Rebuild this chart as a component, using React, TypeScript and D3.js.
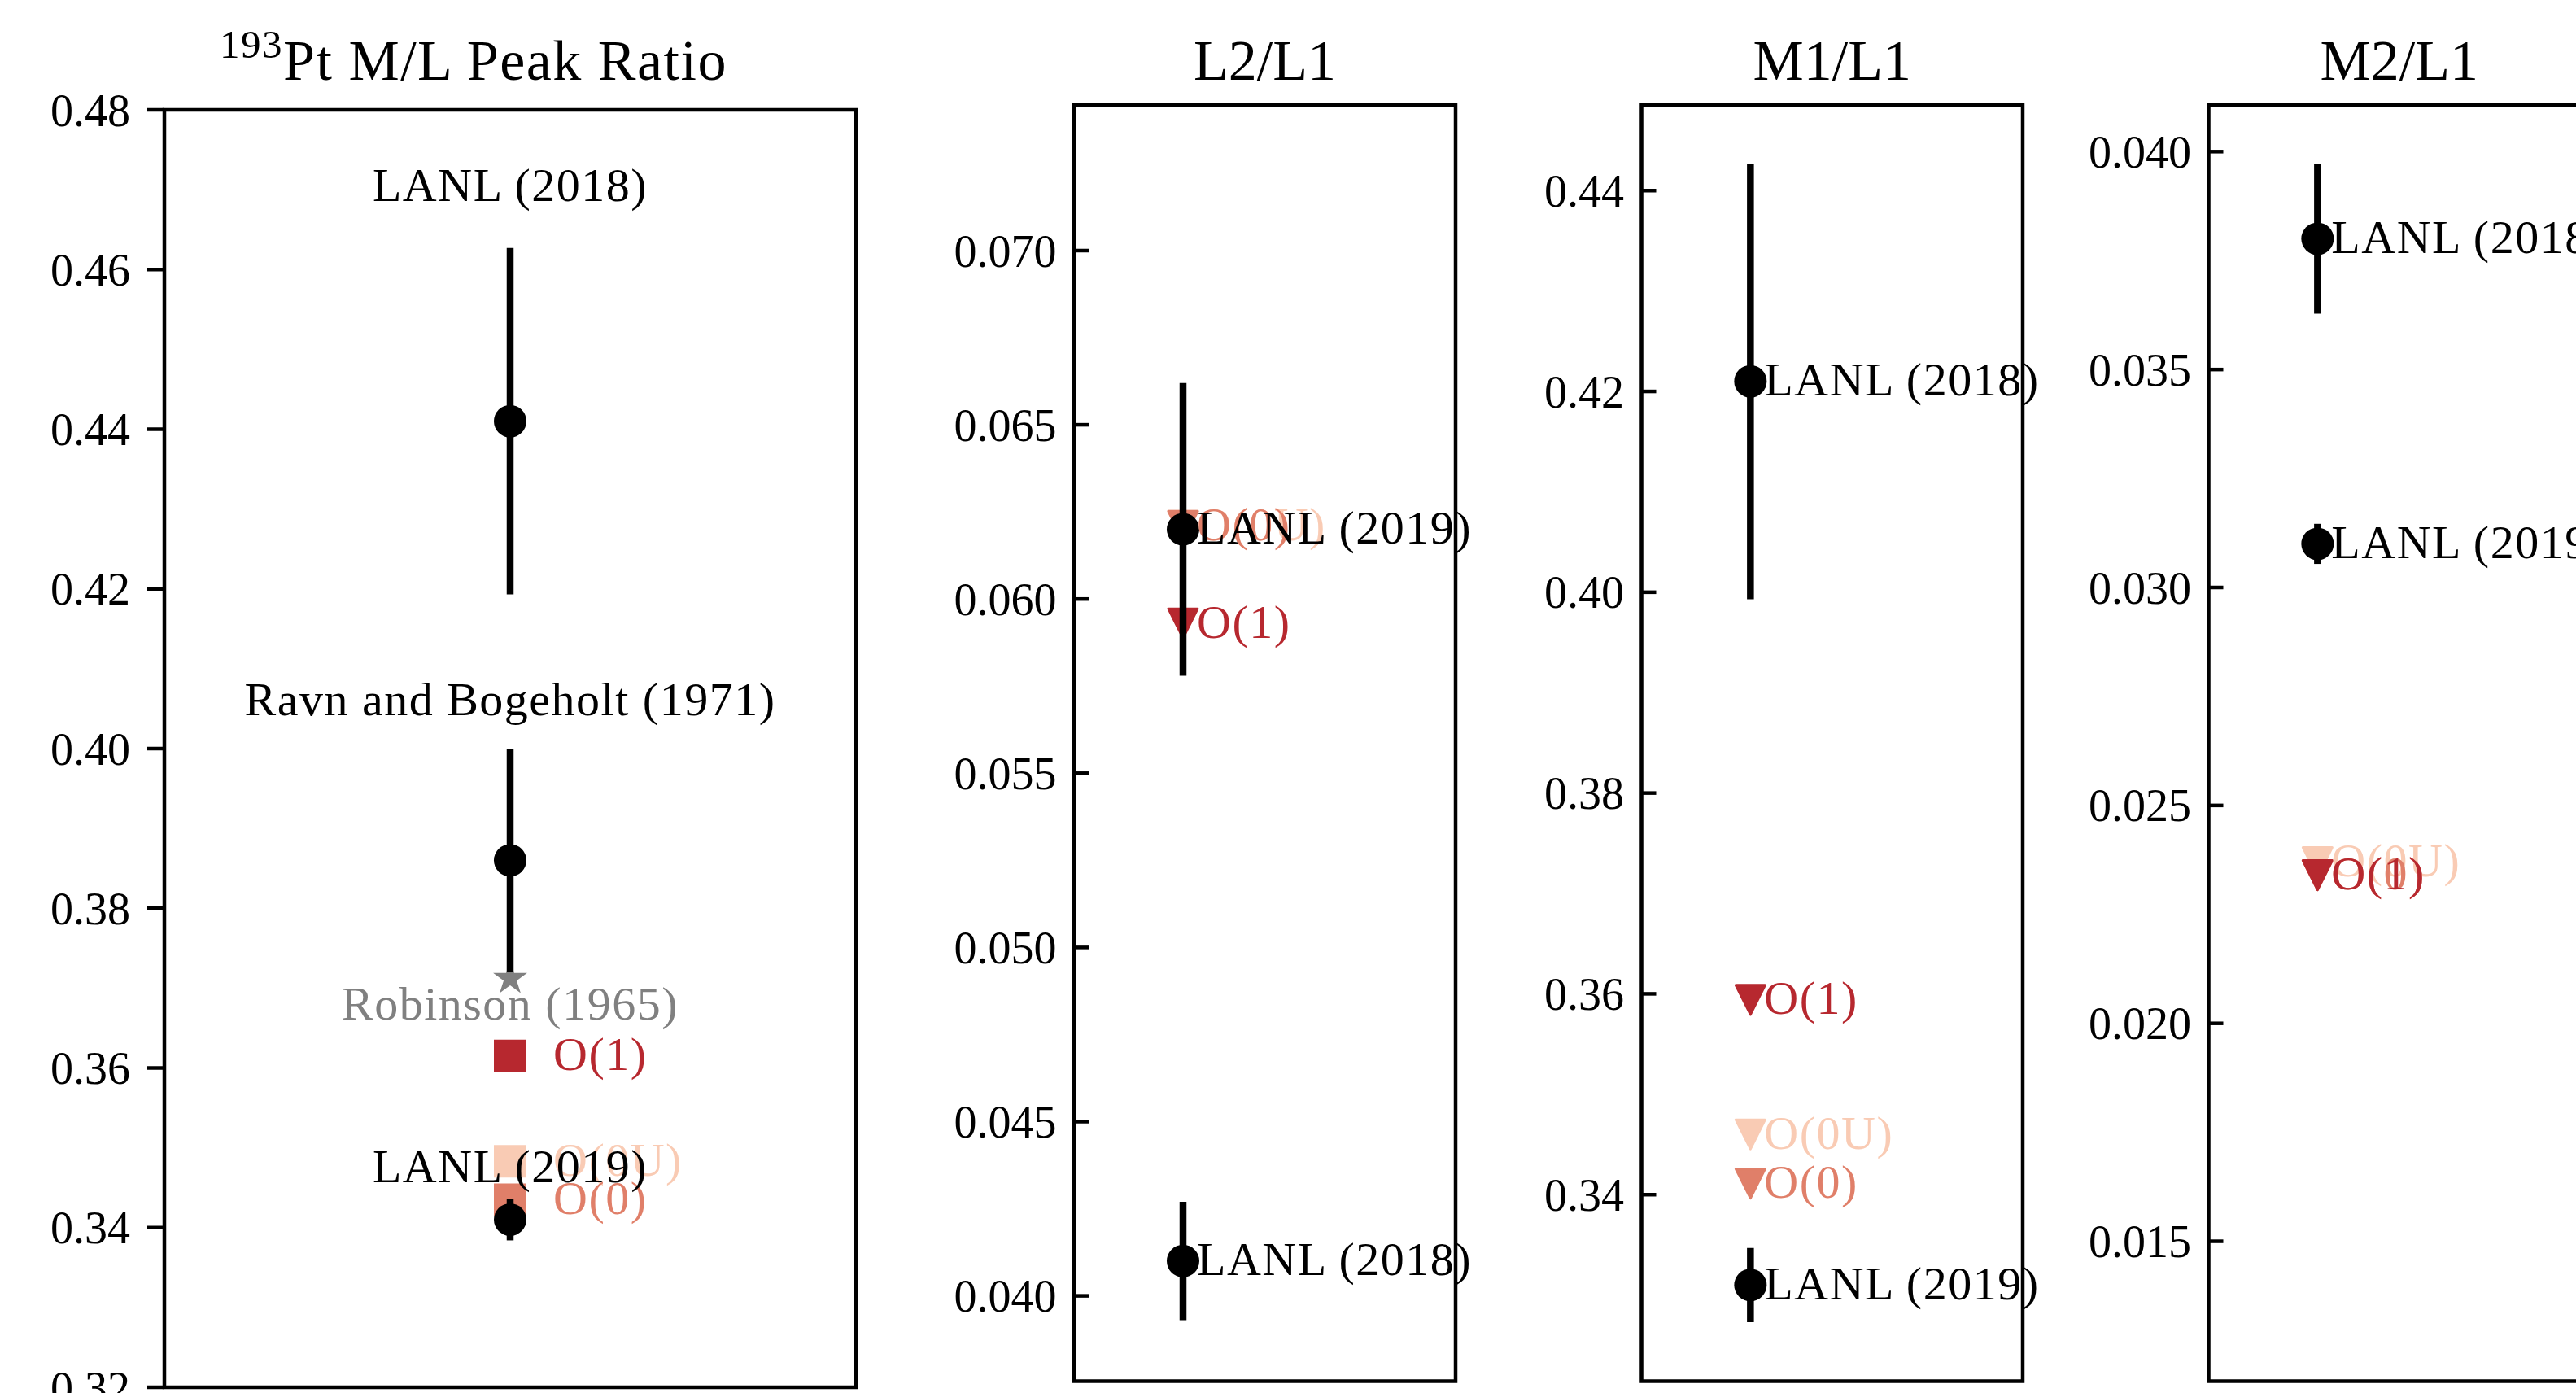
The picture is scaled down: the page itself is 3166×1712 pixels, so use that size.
import React from 'react';
import * as d3 from 'd3';

const W = 3166;
const H = 1712;
const FONT = '"Liberation Serif", "DejaVu Serif", serif';

// calculated orders (drawn in this order, last one on top)
const calcNames = ['O(0U)', 'O(0)', 'O(1)'];
const calcColors = ['#f9cbb4', '#e07f69', '#b7282f'];

// 193Pt M/L peak ratio
const mlRefNames = ['LANL (2018)', 'Ravn and Bogeholt (1971)', 'LANL (2019)'];
const mlRefValues = [0.441, 0.386, 0.341];
const mlRefErrors = [0.0217, 0.014, 0.0026];
const mlRefLabelAt = [0.4686, 0.4042, 0.3457];
const robinsonName = 'Robinson (1965)';
const robinsonValue = 0.3712;
const robinsonLabelAt = 0.3661;
const mlCalcValues = [0.3483, 0.3435, 0.3615];
const mlTicks = [0.32, 0.34, 0.36, 0.38, 0.40, 0.42, 0.44, 0.46, 0.48];

// sub-shell ratios
const lanlNames = ['LANL (2018)', 'LANL (2019)'];

const l2l1Values = [0.041, 0.062];
const l2l1Errors = [0.0017, 0.0042];
const l2l1Calc = [0.0621, 0.0621, 0.0593];
const l2l1Ticks = [0.040, 0.045, 0.050, 0.055, 0.060, 0.065, 0.070];

const m1l1Values = [0.421, 0.331];
const m1l1Errors = [0.0217, 0.0037];
const m1l1Calc = [0.346, 0.3411, 0.3594];
const m1l1Ticks = [0.34, 0.36, 0.38, 0.40, 0.42, 0.44];

const m2l1Values = [0.038, 0.031];
const m2l1Errors = [0.00172, 0.00046];
const m2l1Calc = [0.0237, 0.0234, 0.0234];
const m2l1Ticks = [0.015, 0.020, 0.025, 0.030, 0.035, 0.040];

const TICK_FS = 56;
const LABEL_FS = 58;
const LABEL_LS = 1.5;
const TITLE_FS = 70;
const SPINE_W = 4.5;
const ELW = 8.5;

const circlePath = d3.symbol(d3.symbolCircle, Math.PI * 20 * 20)();
const squarePath = d3.symbol(d3.symbolSquare, 40 * 40)();
const starPath = d3.symbol(d3.symbolStar, (22 * 22) / 0.8908130915292852)();
const triDown = 'M-18,-18L18,-18L0,18Z';

function Frame({ x, y, ticks, fmt, tickOut }) {
  const [x0, x1] = x.range();
  const [y0, y1] = y.range();
  const tickLen = tickOut ? 21 : 18;
  const labelX = tickOut ? x0 - tickLen - 21 : x0 - 21.5;
  const f = d3.format(fmt);
  return (
    <g>
      {ticks.map((t) => (
        <g key={t}>
          <line
            x1={tickOut ? x0 - tickLen : x0}
            x2={tickOut ? x0 : x0 + tickLen}
            y1={y(t)}
            y2={y(t)}
            stroke="#000"
            strokeWidth={SPINE_W}
          />
          <text x={labelX} y={y(t)} dy="0.35em" textAnchor="end" fontSize={TICK_FS}>
            {f(t)}
          </text>
        </g>
      ))}
      <rect
        x={x0}
        y={y1}
        width={x1 - x0}
        height={y0 - y1}
        fill="none"
        stroke="#000"
        strokeWidth={SPINE_W}
      />
    </g>
  );
}

function ErrPoint({ cx, cy, lo, hi }) {
  return (
    <g>
      <line x1={cx} x2={cx} y1={lo} y2={hi} stroke="#000" strokeWidth={ELW} />
      <path d={circlePath} transform={`translate(${cx},${cy})`} fill="#000" />
    </g>
  );
}

function RatioPanel({ title, left, right, top, bottom, domain, ticks, fmt, values, errors, calc }) {
  const x = d3.scaleLinear().domain([-0.5, 1.25]).range([left, right]);
  const y = d3.scaleLinear().domain(domain).range([bottom, top]);
  const cx = x(0);
  return (
    <g>
      <text x={(left + right) / 2} y={98} textAnchor="middle" fontSize={TITLE_FS}>
        {title}
      </text>
      <Frame x={x} y={y} ticks={ticks} fmt={fmt} tickOut={false} />
      {calc.map((v, i) => (
        <path
          key={calcNames[i]}
          d={triDown}
          transform={`translate(${cx},${y(v)})`}
          fill={calcColors[i]}
          stroke={calcColors[i]}
          strokeWidth={3}
          strokeLinejoin="round"
        />
      ))}
      {values.map((v, i) => (
        <ErrPoint key={lanlNames[i]} cx={cx} cy={y(v)} lo={y(v - errors[i])} hi={y(v + errors[i])} />
      ))}
      {calc.map((v, i) => (
        <text
          key={calcNames[i]}
          x={cx + 17}
          y={y(v)}
          dy="0.3em"
          fontSize={LABEL_FS}
          letterSpacing={LABEL_LS}
          fill={calcColors[i]}
        >
          {calcNames[i]}
        </text>
      ))}
      {values.map((v, i) => (
        <text
          key={lanlNames[i]}
          x={cx + 17}
          y={y(v)}
          dy="0.3em"
          fontSize={LABEL_FS}
          letterSpacing={LABEL_LS}
          fill="#000"
        >
          {lanlNames[i]}
        </text>
      ))}
    </g>
  );
}

function PeakPanel() {
  const left = 202, right = 1052, top = 135, bottom = 1705;
  const x = d3.scaleLinear().domain([-1, 1]).range([left, right]);
  const y = d3.scaleLinear().domain([0.32, 0.48]).range([bottom, top]);
  const cx = x(0);
  return (
    <g>
      <text x={582} y={98} textAnchor="middle" fontSize={TITLE_FS} letterSpacing={1.5}>
        <tspan fontSize={49} dy={-27}>193</tspan>
        <tspan dy={27}>Pt M/L Peak Ratio</tspan>
      </text>
      <Frame x={x} y={y} ticks={mlTicks} fmt=".2f" tickOut={true} />
      <path d={starPath} transform={`translate(${cx},${y(robinsonValue)})`} fill="#808080" />
      {mlCalcValues.map((v, i) => (
        <path key={calcNames[i]} d={squarePath} transform={`translate(${cx},${y(v)})`} fill={calcColors[i]} />
      ))}
      {mlRefValues.map((v, i) => (
        <ErrPoint
          key={mlRefNames[i]}
          cx={cx}
          cy={y(v)}
          lo={y(v - mlRefErrors[i])}
          hi={y(v + mlRefErrors[i])}
        />
      ))}
      {mlCalcValues.map((v, i) => (
        <text
          key={calcNames[i]}
          x={cx + 53}
          y={y(v)}
          dy="0.3em"
          fontSize={LABEL_FS}
          letterSpacing={LABEL_LS}
          fill={calcColors[i]}
        >
          {calcNames[i]}
        </text>
      ))}
      <text
        x={cx}
        y={y(robinsonLabelAt)}
        textAnchor="middle"
        fontSize={LABEL_FS}
        letterSpacing={LABEL_LS}
        fill="#808080"
      >
        {robinsonName}
      </text>
      {mlRefNames.map((n, i) => (
        <text
          key={n}
          x={cx}
          y={y(mlRefLabelAt[i])}
          textAnchor="middle"
          fontSize={LABEL_FS}
          letterSpacing={LABEL_LS}
          fill="#000"
        >
          {n}
        </text>
      ))}
    </g>
  );
}

export default function App() {
  return (
    <svg
      width={W}
      height={H}
      style={{ position: 'absolute', left: 0, top: 0, background: '#fff' }}
      fontFamily={FONT}
    >
      <rect width={W} height={H} fill="#fff" />
      <PeakPanel />
      <RatioPanel
        title="L2/L1"
        left={1320}
        right={1789}
        top={129}
        bottom={1697.5}
        domain={[0.03755, 0.07418]}
        ticks={l2l1Ticks}
        fmt=".3f"
        values={l2l1Values}
        errors={l2l1Errors}
        calc={l2l1Calc}
      />
      <RatioPanel
        title="M1/L1"
        left={2017.5}
        right={2486}
        top={129}
        bottom={1697.5}
        domain={[0.32142, 0.44853]}
        ticks={m1l1Ticks}
        fmt=".2f"
        values={m1l1Values}
        errors={m1l1Errors}
        calc={m1l1Calc}
      />
      <RatioPanel
        title="M2/L1"
        left={2714.5}
        right={3183}
        top={129}
        bottom={1697.5}
        domain={[0.01179, 0.04107]}
        ticks={m2l1Ticks}
        fmt=".3f"
        values={m2l1Values}
        errors={m2l1Errors}
        calc={m2l1Calc}
      />
    </svg>
  );
}
